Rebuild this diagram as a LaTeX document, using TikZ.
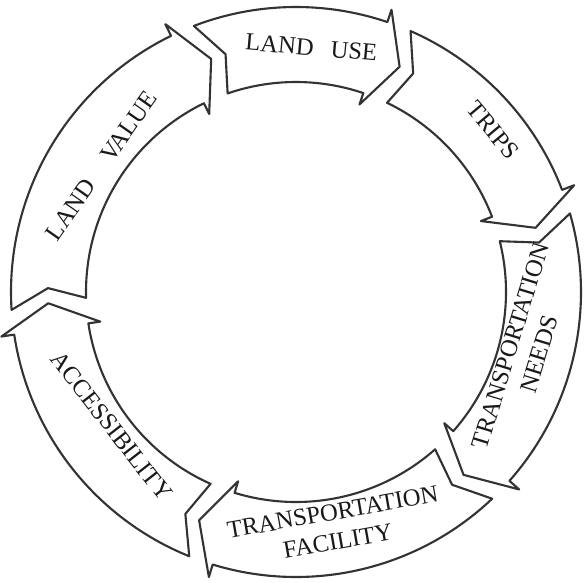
\documentclass[tikz,border=0pt]{standalone}
\usepackage{fontspec}
\setmainfont{Liberation Serif}

\begin{document}
\begin{tikzpicture}[x=0.02cm, y=0.02cm,
    band/.style={draw=black!80, line width=1.2pt, line join=round, fill=white},
    word/.style={text=black!90, font=\fontsize{14}{17}\selectfont, align=center, inner sep=0pt}]
    \useasboundingbox (-296,-290) rectangle (289,292);
    % ring of arrows, clockwise
    \draw[band] (111:285) -- (106.5:248) -- (109:210) arc[start angle=109, end angle=71.3, radius=210]
        -- (71.3:198) -- (65.3:248) -- (71.3:298) -- (71.3:285) arc[start angle=71.3, end angle=111, radius=285] -- cycle;
    \draw[band] (66.3:285) -- (61.8:248) -- (64.3:210) arc[start angle=64.3, end angle=21, radius=210]
        -- (21:198) -- (15:248) -- (21:298) -- (21:285) arc[start angle=21, end angle=66.3, radius=285] -- cycle;
    \draw[band] (16:285) -- (11.5:248) -- (14:210) arc[start angle=14, end angle=-41.5, radius=210]
        -- (-41.5:198) -- (-47.5:248) -- (-41.5:298) -- (-41.5:285) arc[start angle=-41.5, end angle=16, radius=285] -- cycle;
    \draw[band] (-46.5:285) -- (-51:248) -- (-48.5:210) arc[start angle=-48.5, end angle=-107, radius=210]
        -- (-107:198) -- (-113:248) -- (-107:298) -- (-107:285) arc[start angle=-107, end angle=-46.5, radius=285] -- cycle;
    \draw[band] (-112:285) -- (-116.5:248) -- (-114:210) arc[start angle=-114, end angle=-171.4, radius=210]
        -- (-171.4:198) -- (-177.4:248) -- (-171.4:298) -- (-171.4:285) arc[start angle=-171.4, end angle=-112, radius=285] -- cycle;
    \draw[band] (183.6:285) -- (179.1:248) -- (181.6:210) arc[start angle=181.6, end angle=116, radius=210]
        -- (116:198) -- (110:248) -- (116:298) -- (116:285) arc[start angle=116, end angle=183.6, radius=285] -- cycle;
    % labels
    \node[word, rotate=-5] (use) at (86.4:245) {LAND\hspace{0.7em}USE};
    \node[word, rotate=-50] (trips) at (39.4:255) {TRIPS};
    \node[word, rotate=73] (needs) at (-14.2:236) {TRANSPORTATION\\NEEDS};
    \node[word, rotate=10] (facility) at (-80.5:238) {TRANSPORTATION\\FACILITY};
    \node[word, rotate=-52] (access) at (216:228) {ACCESSIBILITY};
    \node[word, rotate=55] (value) at (147:232) {LAND\hspace{1.1em}VALUE};
\end{tikzpicture}
\end{document}
